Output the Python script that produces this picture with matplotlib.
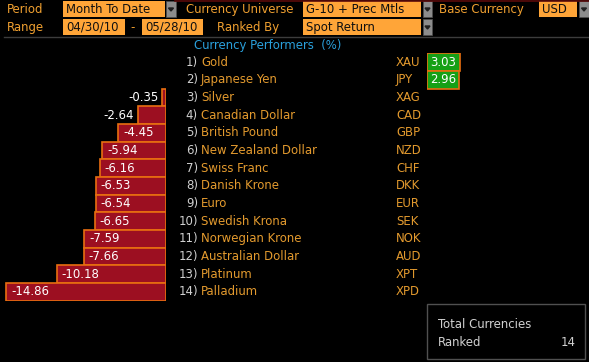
import matplotlib.pyplot as plt
from matplotlib.patches import Rectangle
from matplotlib.transforms import blended_transform_factory

# ranked currency performance, month to date (%)
ranks = list(range(1, 15))
names = ['Gold', 'Japanese Yen', 'Silver', 'Canadian Dollar', 'British Pound',
         'New Zealand Dollar', 'Swiss Franc', 'Danish Krone', 'Euro',
         'Swedish Krona', 'Norwegian Krone', 'Australian Dollar', 'Platinum',
         'Palladium']
codes = ['XAU', 'JPY', 'XAG', 'CAD', 'GBP', 'NZD', 'CHF', 'DKK', 'EUR', 'SEK',
         'NOK', 'AUD', 'XPT', 'XPD']
returns = [3.03, 2.96, -0.35, -2.64, -4.45, -5.94, -6.16, -6.53, -6.54, -6.65,
           -7.59, -7.66, -10.18, -14.86]

W, H = 589, 362
BG = '#000000'
AMBER = '#F0A030'
NAME_COL = '#E39A2E'
BOX_COL = '#FFA538'
RED = '#9C0F21'
EDGE = '#E86E10'
GREEN = '#16A016'
CYAN = '#2AA0DC'
GREY_TXT = '#D0D0D0'

plt.rcParams['font.family'] = ['DejaVu Sans']
plt.rcParams['font.stretch'] = 'condensed'
fs = 9.4

fig = plt.figure(figsize=(W / 100, H / 100), dpi=100, facecolor=BG)

# background axes in pixel coordinates for the header and text
bg = fig.add_axes([0, 0, 1, 1])
bg.set_xlim(0, W)
bg.set_ylim(H, 0)
bg.axis('off')
bg.set_facecolor(BG)

# pixel helpers
def px_ax(x0, x1, y0, y1):
    return [x0 / W, 1 - y1 / H, (x1 - x0) / W, (y1 - y0) / H]

rows_top, rows_bot = 53.2, 300.8
scale = 10.75  # px per percent

ax_neg = fig.add_axes(px_ax(0, 166, rows_top, rows_bot))
ax_neg.set_xlim(-166 / scale, 0)
ax_pos = fig.add_axes(px_ax(427, W, rows_top, rows_bot))
ax_pos.set_xlim(0, (W - 427) / scale)
for a in (ax_neg, ax_pos):
    a.set_ylim(len(ranks) - 0.5, -0.5)
    a.axis('off')
    a.patch.set_alpha(0)

neg = [(i, v) for i, v in enumerate(returns) if v < 0]
pos = [(i, v) for i, v in enumerate(returns) if v >= 0]

ax_neg.barh([i for i, _ in neg], [v for _, v in neg], height=1.0,
            color=RED, edgecolor=EDGE, linewidth=1.2)
for i, v in neg:
    if abs(v) * scale > 36:
        ax_neg.annotate(f'{v:.2f}', (v, i), xytext=(3.5, 0),
                        textcoords='offset points', ha='left', va='center',
                        color='white', fontsize=fs)
    else:
        ax_neg.annotate(f'{v:.2f}', (v, i), xytext=(-2.5, 0),
                        textcoords='offset points', ha='right', va='center',
                        color='white', fontsize=fs)

ax_pos.barh([i for i, _ in pos], [v for _, v in pos], height=1.0,
            color=GREEN, edgecolor=EDGE, linewidth=1.2)
for i, v in pos:
    ax_pos.text(v / 2, i, f'{v:.2f}', ha='center', va='center',
                color='white', fontsize=fs)

# row labels
tr = blended_transform_factory(bg.transData, ax_neg.transData)
for i, (r, n, c) in enumerate(zip(ranks, names, codes)):
    bg.text(198, i, f'{r})', transform=tr, ha='right', va='center',
            color=GREY_TXT, fontsize=fs)
    bg.text(201, i, n, transform=tr, ha='left', va='center',
            color=NAME_COL, fontsize=fs)
    bg.text(396, i, c, transform=tr, ha='left', va='center',
            color=NAME_COL, fontsize=fs)

# header
def field(x0, x1, y0, y1, txt):
    bg.add_patch(Rectangle((x0, y0), x1 - x0, y1 - y0, facecolor=BOX_COL,
                           edgecolor='none'))
    bg.text(x0 + 3, (y0 + y1) / 2 + 0.5, txt, ha='left', va='center',
            color='#101010', fontsize=fs)

def dropdown(x0, x1, y0, y1):
    bg.add_patch(Rectangle((x0, y0), x1 - x0, y1 - y0, facecolor='#8C8C8C',
                           edgecolor='#505050', linewidth=0.5))
    cx, cy = (x0 + x1) / 2, (y0 + y1) / 2
    bg.fill([cx - 2.5, cx + 2.5, cx], [cy - 1, cy - 1, cy + 2],
            color='#202020')

bg.plot([175, W], [0.5, 0.5], color='#5A0A0A', lw=1.2)

bg.text(7, 9.5, 'Period', ha='left', va='center', color=AMBER, fontsize=fs)
field(63, 165, 1, 17, 'Month To Date')
dropdown(166, 176, 1, 17)
bg.text(186, 9.5, 'Currency Universe', ha='left', va='center', color=AMBER,
        fontsize=fs)
field(303, 421, 1, 17, 'G-10 + Prec Mtls')
dropdown(423, 432, 1, 17)
bg.text(439, 9.5, 'Base Currency', ha='left', va='center', color=AMBER,
        fontsize=fs)
field(539, 577, 1, 17, 'USD')
dropdown(579, 589, 1, 17)

bg.text(7, 27.5, 'Range', ha='left', va='center', color=AMBER, fontsize=fs)
field(63, 125, 19, 35, '04/30/10')
bg.text(133, 27.5, '-', ha='center', va='center', color=AMBER, fontsize=fs)
field(142, 203, 19, 35, '05/28/10')
bg.text(217, 27.5, 'Ranked By', ha='left', va='center', color=AMBER,
        fontsize=fs)
field(303, 421, 19, 35, 'Spot Return')
dropdown(423, 432, 19, 35)

bg.plot([4, W], [36.5, 36.5], color='#3C3C3C', lw=1)

bg.text(268, 45.5, 'Currency Performers  (%)', ha='center', va='center',
        color=CYAN, fontsize=fs)

# summary box
bg.add_patch(Rectangle((427, 304), 158, 55, facecolor='none',
                       edgecolor='#505050', linewidth=1))
bg.text(438, 325, 'Total Currencies', ha='left', va='center', color=GREY_TXT,
        fontsize=fs)
bg.text(438, 342, 'Ranked', ha='left', va='center', color=GREY_TXT,
        fontsize=fs)
bg.text(576, 342, str(len(ranks)), ha='right', va='center', color=GREY_TXT,
        fontsize=fs)

fig.savefig('out.png', dpi=100, facecolor=BG)
